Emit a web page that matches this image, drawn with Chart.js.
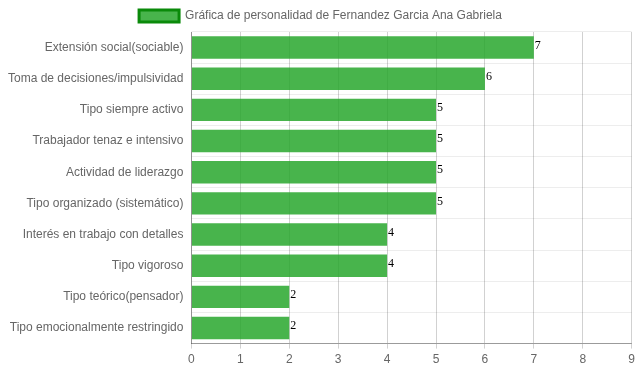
<!DOCTYPE html>
<html>
<head>
<meta charset="utf-8">
<title>Gráfica de personalidad</title>
<script src="https://cdn.jsdelivr.net/npm/chart.js"></script>
<style>
  html, body { margin: 0; padding: 0; background: #fff; }
  #wrap { width: 639px; height: 372px; }
</style>
</head>
<body>
<div id="wrap"><canvas id="grafica"></canvas></div>
<script>
// datos
const categorias = [
  'Extensión social(sociable)',
  'Toma de decisiones/impulsividad',
  'Tipo siempre activo',
  'Trabajador tenaz e intensivo',
  'Actividad de liderazgo',
  'Tipo organizado (sistemático)',
  'Interés en trabajo con detalles',
  'Tipo vigoroso',
  'Tipo teórico(pensador)',
  'Tipo emocionalmente restringido'
];
const valores = [7, 6, 5, 5, 5, 5, 4, 4, 2, 2];
const tituloSerie = 'Gráfica de personalidad de Fernandez Garcia Ana Gabriela';
const ticksX = [0, 1, 2, 3, 4, 5, 6, 7, 8, 9];

Chart.defaults.font.family = '"Helvetica Neue", Helvetica, Arial, "Liberation Sans", sans-serif';
Chart.defaults.font.size = 12;
Chart.defaults.color = '#666';

// etiquetas de valor al final de cada barra
const etiquetasValor = {
  id: 'etiquetasValor',
  afterDatasetsDraw(chart) {
    const ctx = chart.ctx;
    ctx.save();
    ctx.font = '12px "Times New Roman", "Liberation Serif", serif';
    ctx.fillStyle = '#000';
    ctx.textAlign = 'left';
    ctx.textBaseline = 'middle';
    chart.getDatasetMeta(0).data.forEach(function (bar, i) {
      ctx.fillText(valores[i], bar.x + 1, bar.y - 2);
    });
    ctx.restore();
  }
};

new Chart(document.getElementById('grafica'), {
  type: 'bar',
  data: {
    labels: categorias,
    datasets: [{
      label: tituloSerie,
      data: valores,
      backgroundColor: 'rgba(40,167,45,0.85)',
      borderColor: '#0a8a0a',
      borderWidth: 0,
      barPercentage: 0.9,
      categoryPercentage: 0.8
    }]
  },
  options: {
    indexAxis: 'y',
    responsive: true,
    maintainAspectRatio: false,
    animation: false,
    layout: { padding: { left: 0, right: -2, top: 0, bottom: 1 } },
    plugins: {
      tooltip: { enabled: false },
      legend: {
        position: 'top',
        labels: {
          boxWidth: 40,
          boxHeight: 12,
          padding: 10,
          generateLabels(chart) {
            const items = Chart.defaults.plugins.legend.labels.generateLabels(chart);
            items.forEach(function (it) {
              it.strokeStyle = '#0a8a0a';
              it.lineWidth = 3;
            });
            return items;
          }
        }
      }
    },
    scales: {
      x: {
        min: 0,
        max: ticksX[ticksX.length - 1],
        ticks: { stepSize: 1, color: '#666', padding: 4 },
        grid: { color: 'rgba(0,0,0,0.18)', drawTicks: true, tickLength: 5 },
        border: { color: 'rgba(0,0,0,0.35)' }
      },
      y: {
        ticks: { color: '#666', padding: 8 },
        grid: { color: 'rgba(0,0,0,0.07)', tickLength: 0, offset: true },
        border: { color: 'rgba(0,0,0,0.3)' }
      }
    }
  },
  plugins: [etiquetasValor]
});
</script>
</body>
</html>
